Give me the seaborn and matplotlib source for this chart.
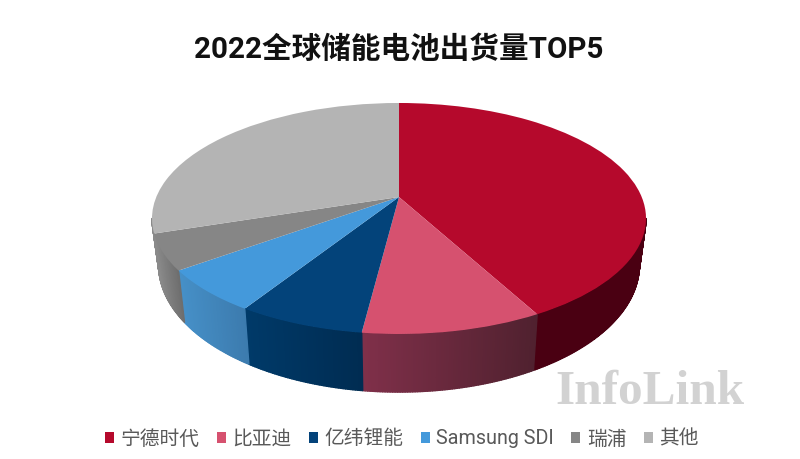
import numpy as np
import matplotlib
matplotlib.use('Agg')
import matplotlib.pyplot as plt
from matplotlib.collections import PolyCollection
from matplotlib.colors import to_rgb
from matplotlib.transforms import Transform
import seaborn as sns

# data (share %, clockwise from 12 o'clock)
companies = ['宁德时代', '比亚迪', '亿纬锂能', 'Samsung SDI', '瑞浦', '其他']
shares = [42.1, 9.9, 7.0, 6.0, 5.0, 30.0]

top_colors = ['#b5092c', '#d6516f', '#03437a', '#4499db', '#868686', '#b4b4b4']
# side wall shading, left end and right end of each slice
wall_colors = [('#4a0012', '#4a0012'), ('#80304a', '#50212f'), ('#003a69', '#002c52'),
               ('#4690c8', '#3c7bae'), ('#8a8a8a', '#6e6e6e'), ('#8a8a8a', '#8a8a8a')]

sns.set_theme(style='white')
plt.rcParams['font.family'] = ['Roboto', 'Noto Sans CJK SC', 'DejaVu Sans']

W, H = 800, 459
# perspective of the tilted disc, all in pixels
cx, cy = 399, 197
sx, sy = 242.7, 111.5
tilt = 0.186
# wall only shows between the two widest points of the disc
wall_lo = 90 + np.degrees(np.arcsin(tilt))
wall_hi = 360 - wall_lo


def project(X, Y):
    w = 1 + tilt * Y
    return cx + sx * X / w, cy - sy * Y / w


class DiscTransform(Transform):
    input_dims = output_dims = 2

    def transform_non_affine(self, values):
        px, py = project(values[:, 0], values[:, 1])
        return np.column_stack([px, py])


fig = plt.figure(figsize=(W / 100, H / 100), dpi=100, facecolor='white')
ax = fig.add_axes([0, 0, 1, 1])

wedges, _ = ax.pie(shares, colors=sns.color_palette(top_colors), startangle=90,
                   counterclock=False, radius=1, wedgeprops={'linewidth': 0})
ax.set_aspect('auto')
ax.set_xlim(0, W)
ax.set_ylim(H, 0)
ax.axis('off')
for w in wedges:
    w.set_zorder(5)
    w.set_transform(DiscTransform() + ax.transData)
    w.set_clip_on(False)

# side wall, thin strips along the front half of the disc
ends = np.cumsum(shares) / np.sum(shares) * 360
starts = np.concatenate([[0], ends[:-1]])
for a0, a1, (c_left, c_right) in zip(starts, ends, wall_colors):
    lo, hi = max(a0, wall_lo), min(a1, wall_hi)
    if lo >= hi:
        continue
    t = np.radians(np.linspace(lo, hi, int((hi - lo) * 2) + 2))
    top_x, top_y = project(np.sin(t), np.cos(t))
    # lower rim is slightly narrower and shifted down
    low_x = cx + (top_x - cx) * 0.973
    low_y = cy + (top_y - cy) * 1.1 + 44.4
    polys = [[(top_x[i], top_y[i]), (top_x[i + 1], top_y[i + 1]),
              (low_x[i + 1], low_y[i + 1]), (low_x[i], low_y[i])] for i in range(len(t) - 1)]
    f = (top_x[:-1] - top_x.min()) / max(top_x.max() - top_x.min(), 1e-6)
    cols = np.outer(1 - f, to_rgb(c_left)) + np.outer(f, to_rgb(c_right))
    ax.add_collection(PolyCollection(polys, facecolors=cols, edgecolors=cols,
                                     linewidths=1.0, zorder=3))

fig.text(398.5 / W, 1 - 50 / H, '2022全球储能电池出货量TOP5', ha='center', va='center',
         fontsize=21.3, fontweight='bold', color='#111111')

fig.text(649.5 / W, 1 - 392 / H, 'InfoLink', ha='center', va='center',
         fontsize=35.5, fontweight='bold', color='#d2d2d2', family='Liberation Serif')

ax.legend(wedges, companies, ncol=6, loc='center', bbox_to_anchor=(402 / W, 1 - 439 / H),
          bbox_transform=fig.transFigure, frameon=False, fontsize=14.2,
          labelcolor='#595959', handlelength=0.46, handleheight=0.46,
          handletextpad=0.33, columnspacing=0.87, borderpad=0)

fig.savefig('out.png', dpi=100)
